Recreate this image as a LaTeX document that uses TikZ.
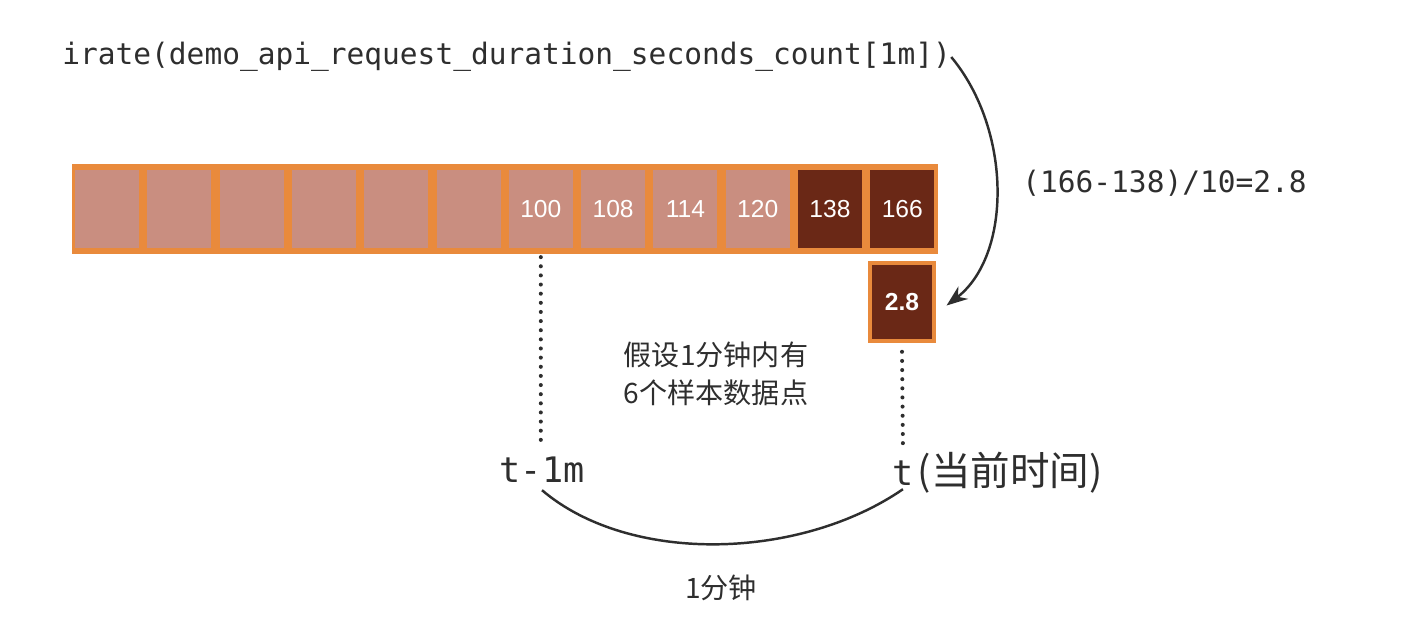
\documentclass[tikz,border=0pt]{standalone}
\usepackage{fontspec}
\setmonofont{DejaVu Sans Mono}
\setsansfont{Liberation Sans}
\newfontfamily\cjk{Noto Sans CJK SC}
\usetikzlibrary{arrows.meta, positioning}
\definecolor{barOrange}{HTML}{E98A3C}
\definecolor{cellLight}{HTML}{C98E80}
\definecolor{cellDark}{HTML}{6A2816}
\definecolor{inkGray}{HTML}{2E2E2E}

\tikzset{
  cell/.style={minimum width=1.28cm, minimum height=1.56cm, inner sep=0pt,
    text=white, font=\sffamily\fontsize{14pt}{16pt}\selectfont},
  code/.style={inner sep=0pt, text=inkGray, font=\ttfamily\fontsize{16.8pt}{20pt}\selectfont},
  bigcode/.style={inner sep=0pt, text=inkGray, font=\ttfamily\fontsize{20pt}{24pt}\selectfont},
  note/.style={inner sep=0pt, text=inkGray, font=\cjk\fontsize{16pt}{21.5pt}\selectfont},
  guide/.style={inkGray, line width=2.3pt, line cap=round, dash pattern=on 0pt off 5.2pt},
  bow/.style={inkGray, line width=1.4pt}
}

\begin{document}
\begin{tikzpicture}[x=0.02cm, y=-0.02cm]
    \useasboundingbox (0,0) rectangle (1405,622);
    % sample window
    \fill[barOrange] (72,164) rectangle (938,254);
    \foreach \lbl/\shade [count=\i] in {{}/cellLight, {}/cellLight, {}/cellLight, {}/cellLight,
        {}/cellLight, {}/cellLight, 100/cellLight, 108/cellLight, 114/cellLight, 120/cellLight,
        138/cellDark, 166/cellDark} {
      \node[cell, fill=\shade] (c\i) at ({107+(\i-1)*72.3},209) {\lbl};
    }
    \node[cell, fill=cellDark, draw=barOrange, line width=0.08cm,
      font=\sffamily\bfseries\fontsize{14pt}{16pt}\selectfont] (res) at (902,302) {2.8};

    \node[code, anchor=west] (expr) at (62,57) {irate(demo\_api\_request\_duration\_seconds\_count[1m])};
    \node[code, anchor=west] (calc) at (1022,183) {(166-138)/10=2.8};
    \draw[bow, -{Stealth[length=12pt, width=9pt]}] (expr.east) .. controls (1012,130) and (1012,255) .. ([xshift=6pt,yshift=-2pt]res.east);

    % time axis
    \node[bigcode] (tm) at (542,470) {t-1m};
    \node[bigcode, anchor=west] (tnow) at (892,473) {t};
    \node[inner sep=0pt, text=inkGray, font=\cjk\fontsize{22.5pt}{26pt}\selectfont, right=2pt of tnow] (cur) {(当前时间)};
    \draw[guide] ([yshift=-5pt]c7.south) -- ([yshift=8pt]tm.north -| c7.south);
    \draw[guide] ([yshift=-5pt]res.south) -- ([yshift=8pt]tnow.north);

    \node[note, align=left] (hint) at (716,374) {假设1分钟内有\\6个样本数据点};
    \draw[bow] ([yshift=-4pt]tm.south) .. controls (630,565) and (800,560) .. ([yshift=-2pt]tnow.south);
    \node[note] (span) at (721,588) {1分钟};
  \end{tikzpicture}
\end{document}
